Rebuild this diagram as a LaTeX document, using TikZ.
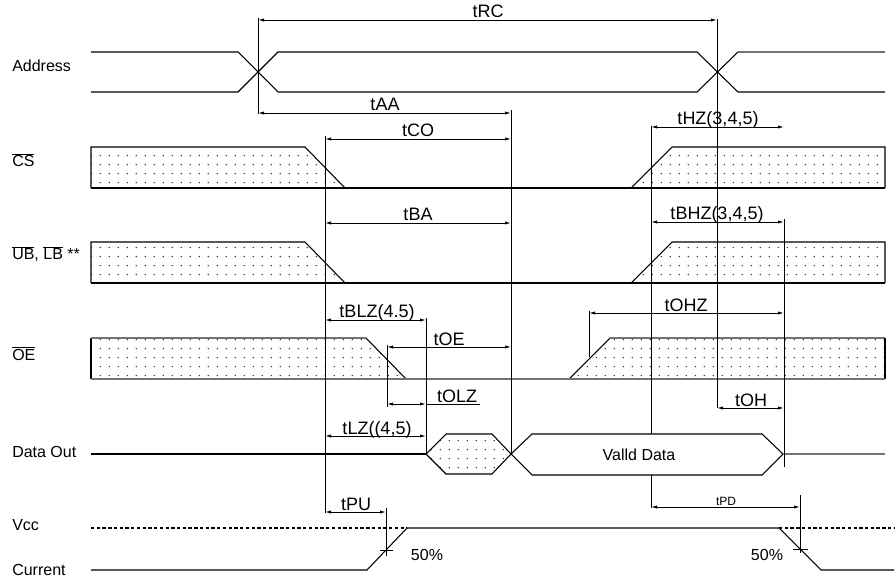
\documentclass[tikz,border=0pt]{standalone}
\usepackage{fontspec}
\setmainfont{Liberation Sans}
\usetikzlibrary{arrows.meta,patterns.meta}
\begin{document}
\begin{tikzpicture}[x=0.75pt,y=-0.75pt,
  wave/.style={line width=0.8pt},
  greywave/.style={line width=0.8pt,black!55},
  vline/.style={line width=0.75pt},
  dim/.style={line width=0.7pt,{Latex[length=4.5pt,width=2.4pt]}-{Latex[length=4.5pt,width=2.4pt]}},
  ext/.style={line width=0.7pt},
  dotfill/.style={pattern={Dots[distance=6.9pt,radius=0.6pt]},pattern color=black!85},
  tlab/.style={anchor=base,inner sep=0pt,font=\fontsize{13.5}{15}\selectfont},
  smalllab/.style={anchor=base,inner sep=0pt,font=\fontsize{9}{10}\selectfont},
  sig/.style={anchor=base west,inner sep=0pt,font=\fontsize{12}{14}\selectfont},
]
\useasboundingbox (0,0) rectangle (896,577);

% ---------- signal names ----------
\node[sig] (nAddr) at (12,72) {Address};
\node[sig] (nCS)   at (12,167) {$\overline{\mbox{CS}}$};
\node[sig] (nUB)   at (12,260) {$\overline{\mbox{UB}}$, $\overline{\mbox{LB}}$ **};
\node[sig] (nOE)   at (12,360) {$\overline{\mbox{OE}}$};
\node[sig] (nDO)   at (12,457) {Data Out};
\node[sig] (nVcc)  at (12,530) {Vcc};
\node[sig] (nCur)  at (12,575) {Current};

% ---------- Address ----------
\draw[wave] (91,52) -- (238,52) -- (278,92) -- (697,92) -- (738,52);
\draw[greywave] (738,52) -- (885,52);
\draw[wave] (91,92) -- (238,92) -- (278,52) -- (697,52) -- (738,92) -- (885,92);

% ---------- CS ----------
\fill[dotfill] (91,147) -- (305,147) -- (345,188) -- (91,188) -- cycle;
\fill[dotfill] (631,188) -- (672,147) -- (885,147) -- (885,188) -- cycle;
\draw[wave] (91,188) -- (91,147) -- (305,147) -- (345,188);
\draw[wave] (631,188) -- (672,147) -- (885,147) -- (885,188);
\draw[wave] (91,188) -- (885,188);

% ---------- UB, LB ----------
\fill[dotfill] (91,242) -- (305,242) -- (345,283) -- (91,283) -- cycle;
\fill[dotfill] (631,283) -- (672,242) -- (885,242) -- (885,283) -- cycle;
\draw[wave] (91,283) -- (91,242) -- (305,242) -- (345,283);
\draw[wave] (631,283) -- (672,242) -- (885,242) -- (885,283);
\draw[wave] (91,283) -- (885,283);

% ---------- OE ----------
\fill[dotfill] (91,338) -- (366,338) -- (406,379) -- (91,379) -- cycle;
\fill[dotfill] (569,379) -- (610,338) -- (885,338) -- (885,379) -- cycle;
\draw[wave] (91,379) -- (91,338);
\draw[greywave] (91,338) -- (366,338);
\draw[wave] (366,338) -- (406,379);
\draw[wave] (569,379) -- (610,338);
\draw[greywave] (610,338) -- (885,338);
\draw[wave] (885,338) -- (885,379);
\draw[greywave] (91,379) -- (885,379);

% ---------- Data Out ----------
\draw[wave] (91,454) -- (426,454);
\fill[dotfill] (426,454) -- (446,434) -- (492,434) -- (511,454) -- (492,474) -- (446,474) -- cycle;
\draw[wave] (426,454) -- (446,434) -- (492,434) -- (511,454) -- (492,474) -- (446,474) -- cycle;
\draw[wave] (511,454) -- (532,434) -- (762,434) -- (783,454) -- (762,475) -- (532,475) -- cycle;
\node[anchor=center,inner sep=0pt,font=\fontsize{12}{14}\selectfont] (vd) at (639,455) {Valld Data};
\draw[greywave] (784,454) -- (885,454);

% ---------- Vcc / Current ----------
\draw[wave,dash pattern=on 2.5pt off 1.8pt] (91,528) -- (407,528);
\draw[wave] (91,570) -- (367,570) -- (407,528) -- (779,528) -- (821,570) -- (894,570);
\draw[wave,dash pattern=on 2.5pt off 1.8pt] (779,528) -- (894,528);

% ---------- reference verticals ----------
\draw[vline] (258,18) -- (258,114);
\draw[vline] (717,19) -- (717,408);
\draw[vline] (511,110) -- (511,453);
\draw[vline] (325,136) -- (325,513);
\draw[vline] (651,126) -- (651,434);
\draw[vline] (651,475) -- (651,508);
\draw[vline] (784,219) -- (784,467);
\draw[vline] (426,318) -- (426,454);
\draw[vline] (387,345) -- (387,407);
\draw[vline] (589,311) -- (589,357);
\draw[vline] (386,508) -- (386,556);
\draw[vline] (380,550) -- (393,550);
\draw[vline] (800,495) -- (800,553);
\draw[vline] (793,549) -- (808,549);

% ---------- dimension lines ----------
\draw[dim] (258,20) -- (717,20);   \node[tlab] (lRC) at (488,18) {tRC};
\draw[dim] (258,113) -- (511,113); \node[tlab] (lAA) at (385,111) {tAA};
\draw[dim] (325,139) -- (511,139); \node[tlab] (lCO) at (418,137) {tCO};
\draw[dim] (651,127) -- (784,127); \node[tlab] (lHZ) at (718,125) {tHZ(3,4,5)};
\draw[dim] (325,223) -- (511,223); \node[tlab] (lBA) at (418,221) {tBA};
\draw[dim] (651,222) -- (784,222); \node[tlab] (lBHZ) at (717,220) {tBHZ(3,4,5)};
\draw[dim] (325,320) -- (426,320); \node[tlab] (lBLZ) at (377,318) {tBLZ(4.5)};
\draw[dim] (589,313) -- (784,313); \node[tlab] (lOHZ) at (686,311) {tOHZ};
\draw[dim] (387,347) -- (511,347); \node[tlab] (lOE) at (449,345) {tOE};
\draw[dim] (387,404) -- (426,404); \draw[ext] (426,404) -- (480,404);
\node[tlab] (lOLZ) at (457,402) {tOLZ};
\draw[dim] (717,408) -- (784,408); \node[tlab] (lOH) at (751,406) {tOH};
\draw[dim] (325,436) -- (426,436); \node[tlab] (lLZ) at (377,434) {tLZ((4,5)};
\draw[dim] (325,512) -- (386,512); \node[tlab] (lPU) at (356,510) {tPU};
\draw[dim] (651,507) -- (800,507); \node[smalllab] (lPD) at (726,505) {tPD};

% ---------- 50% marks ----------
\node[anchor=center,inner sep=0pt,font=\fontsize{12}{14}\selectfont] (p1) at (427,555) {50\%};
\node[anchor=center,inner sep=0pt,font=\fontsize{12}{14}\selectfont] (p2) at (767,555) {50\%};
\end{tikzpicture}
\end{document}
